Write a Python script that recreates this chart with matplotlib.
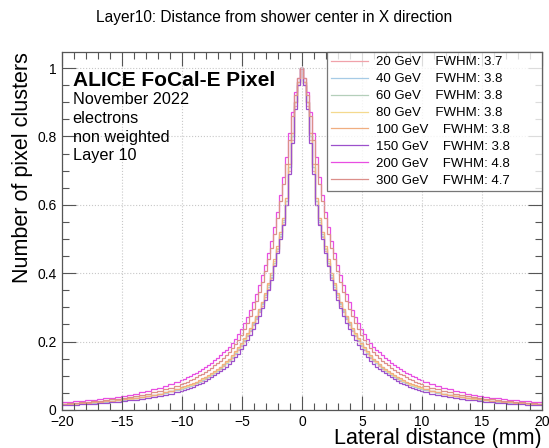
import numpy as np
import matplotlib
matplotlib.use("Agg")
from matplotlib import pyplot as plt
from matplotlib.ticker import MultipleLocator, FuncFormatter

plt.rcParams['font.family'] = ['Liberation Sans', 'DejaVu Sans']

# Bin layout: one central bin, 0.25 mm bins out to 10.125 mm, then 0.5 mm bins.
# Each profile lists the bin contents from the centre outwards; the negative side is the mirror image.
inner_edges = np.arange(0.125, 10.126, 0.25)
outer_edges = np.arange(10.625, 20.126, 0.5)
pos_edges = np.concatenate([inner_edges, outer_edges])
edges = np.concatenate([-pos_edges[::-1], pos_edges])

energies = ["20", "40", "60", "80", "100", "150", "200", "300"]
fwhm = ["3.7", "3.8", "3.8", "3.8", "3.8", "3.8", "4.8", "4.7"]
colors = ['#f0a2aa', '#a6cbe6', '#b4cfba', '#f4d98e', '#f0ae80', '#9c50cc', '#e84ee2', '#dc8f8a']

half_20 = [1.00, 0.95, 0.89, 0.79, 0.70, 0.60, 0.545, 0.505, 0.465, 0.425, 0.385, 0.355, 0.33, 0.305, 0.285,
           0.265, 0.248, 0.231, 0.215, 0.201, 0.188, 0.176, 0.164, 0.153, 0.143,
           0.136, 0.128, 0.121, 0.114, 0.108, 0.102, 0.096, 0.091, 0.086, 0.082, 0.078, 0.074, 0.070, 0.067,
           0.064, 0.061,
           0.058, 0.054, 0.050, 0.046, 0.043, 0.040, 0.037, 0.034, 0.032, 0.030, 0.028, 0.026, 0.024, 0.023,
           0.021, 0.020, 0.019, 0.018, 0.017, 0.016]
half_40 = [1.00, 0.96, 0.90, 0.80, 0.71, 0.61, 0.55, 0.51, 0.47, 0.43, 0.39, 0.36, 0.335, 0.31, 0.29,
           0.27, 0.252, 0.234, 0.218, 0.204, 0.19, 0.178, 0.166, 0.155, 0.145,
           0.138, 0.130, 0.122, 0.115, 0.109, 0.103, 0.097, 0.092, 0.087, 0.083, 0.079, 0.075, 0.071, 0.068,
           0.065, 0.062,
           0.059, 0.054, 0.050, 0.046, 0.043, 0.040, 0.037, 0.034, 0.032, 0.030, 0.028, 0.026, 0.024, 0.023,
           0.021, 0.020, 0.019, 0.018, 0.017, 0.016]
half_60 = [1.00, 0.96, 0.90, 0.80, 0.71, 0.61, 0.555, 0.515, 0.47, 0.43, 0.395, 0.365, 0.338, 0.312, 0.292,
           0.272, 0.254, 0.236, 0.22, 0.206, 0.192, 0.18, 0.168, 0.157, 0.147,
           0.140, 0.132, 0.124, 0.117, 0.111, 0.105, 0.099, 0.094, 0.089, 0.084, 0.080, 0.076, 0.072, 0.069,
           0.066, 0.063,
           0.060, 0.055, 0.051, 0.047, 0.044, 0.041, 0.038, 0.035, 0.033, 0.031, 0.029, 0.027, 0.025, 0.023,
           0.022, 0.020, 0.019, 0.018, 0.017, 0.016]
half_80 = [1.00, 0.96, 0.90, 0.81, 0.72, 0.62, 0.56, 0.52, 0.475, 0.435, 0.40, 0.368, 0.34, 0.315, 0.294,
           0.274, 0.256, 0.238, 0.222, 0.207, 0.193, 0.181, 0.169, 0.158, 0.148,
           0.141, 0.133, 0.125, 0.118, 0.112, 0.106, 0.100, 0.095, 0.090, 0.085, 0.081, 0.077, 0.073, 0.070,
           0.067, 0.064,
           0.060, 0.055, 0.051, 0.047, 0.044, 0.041, 0.038, 0.035, 0.033, 0.031, 0.029, 0.027, 0.025, 0.024,
           0.022, 0.021, 0.019, 0.018, 0.017, 0.016]
half_100 = [1.00, 0.96, 0.90, 0.81, 0.72, 0.62, 0.56, 0.52, 0.48, 0.44, 0.40, 0.37, 0.342, 0.317, 0.296,
            0.276, 0.258, 0.24, 0.224, 0.209, 0.195, 0.183, 0.171, 0.16, 0.15,
            0.142, 0.134, 0.127, 0.120, 0.114, 0.108, 0.102, 0.097, 0.092, 0.087, 0.083, 0.079, 0.075, 0.072,
            0.069, 0.066,
            0.061, 0.056, 0.052, 0.048, 0.045, 0.042, 0.039, 0.036, 0.034, 0.031, 0.029, 0.027, 0.025, 0.024,
            0.022, 0.021, 0.020, 0.019, 0.018, 0.017]
half_150 = [1.00, 0.95, 0.88, 0.78, 0.69, 0.60, 0.54, 0.50, 0.46, 0.42, 0.38, 0.35, 0.322, 0.297, 0.275,
            0.255, 0.237, 0.22, 0.204, 0.19, 0.177, 0.165, 0.154, 0.144, 0.134,
            0.127, 0.120, 0.113, 0.107, 0.101, 0.095, 0.090, 0.085, 0.080, 0.076, 0.072, 0.068, 0.065, 0.062,
            0.059, 0.056,
            0.053, 0.048, 0.044, 0.041, 0.038, 0.035, 0.032, 0.030, 0.028, 0.026, 0.024, 0.022, 0.021, 0.019,
            0.018, 0.017, 0.016, 0.015, 0.014, 0.013]
half_200 = [1.00, 0.97, 0.93, 0.87, 0.81, 0.74, 0.68, 0.63, 0.58, 0.535, 0.495, 0.46, 0.425, 0.395, 0.365,
            0.34, 0.315, 0.293, 0.273, 0.255, 0.238, 0.222, 0.208, 0.195, 0.183,
            0.176, 0.168, 0.160, 0.152, 0.145, 0.138, 0.131, 0.125, 0.119, 0.114, 0.109, 0.104, 0.099, 0.095,
            0.091, 0.087,
            0.082, 0.076, 0.070, 0.065, 0.060, 0.056, 0.052, 0.048, 0.045, 0.042, 0.039, 0.036, 0.034, 0.032,
            0.030, 0.028, 0.026, 0.025, 0.023, 0.022]
half_300 = [1.00, 0.97, 0.92, 0.86, 0.79, 0.72, 0.66, 0.61, 0.56, 0.515, 0.475, 0.44, 0.405, 0.375, 0.345,
            0.32, 0.295, 0.274, 0.255, 0.237, 0.22, 0.205, 0.192, 0.18, 0.168,
            0.160, 0.152, 0.144, 0.137, 0.130, 0.123, 0.117, 0.111, 0.106, 0.101, 0.096, 0.091, 0.087, 0.083,
            0.079, 0.075,
            0.071, 0.065, 0.060, 0.055, 0.051, 0.047, 0.044, 0.041, 0.038, 0.035, 0.033, 0.031, 0.029, 0.027,
            0.025, 0.023, 0.022, 0.021, 0.019, 0.018]

profiles = [half_20, half_40, half_60, half_80, half_100, half_150, half_200, half_300]

fig = plt.figure(figsize=(5.49, 4.48), dpi=100)
ax = fig.add_axes([0.113, 0.085, 0.874, 0.799])

for e, w, c, half in zip(energies, fwhm, colors, profiles):
    half = np.array(half)
    vals = np.concatenate([half[:0:-1], half])
    ax.stairs(vals, edges, color=c, lw=0.9, label=f"{e} GeV    FWHM: {w}")

ax.set_xlim(-20, 20)
ax.set_ylim(0, 1.047)

ax.xaxis.set_major_locator(MultipleLocator(5))
ax.xaxis.set_minor_locator(MultipleLocator(1))
ax.yaxis.set_major_locator(MultipleLocator(0.2))
ax.yaxis.set_minor_locator(MultipleLocator(0.05))
ax.yaxis.set_major_formatter(FuncFormatter(lambda v, p: f"{v:g}"))
ax.tick_params(which='both', direction='in', top=True, right=True, labelsize=10, width=0.8, color='#555555')
ax.tick_params(which='major', length=10)
ax.tick_params(which='minor', length=5)
ax.tick_params(axis='x', pad=4)
ax.tick_params(axis='y', pad=4)
ax.grid(True, which='major', ls=':', color='#c8c8c8', lw=0.8)
for s in ax.spines.values():
    s.set_color('#555555')
    s.set_linewidth(0.9)

ax.set_xlabel("Lateral distance (mm)", fontsize=15.5, loc='right', labelpad=-1)
ax.set_ylabel("Number of pixel clusters", fontsize=15.5, loc='top', labelpad=3)
fig.text(0.5, 0.962, "Layer10: Distance from shower center in X direction", ha='center', va='center', fontsize=11.2)

ax.text(0.022, 0.92, "ALICE FoCal-E Pixel", transform=ax.transAxes, fontsize=15, fontweight='bold', va='center')
info = ["November 2022", "electrons", "non weighted", "Layer 10"]
for i, line in enumerate(info):
    ax.text(0.022, 0.866 - i * 0.052, line, transform=ax.transAxes, fontsize=11.7, va='center')

# legend box stretched to a fixed width, entries left-aligned inside it
leg = ax.legend(loc='upper left', bbox_to_anchor=(0.552, 0.0, 0.448, 1.0), mode='expand', borderaxespad=0,
                fontsize=9.5, frameon=True, fancybox=False, edgecolor='#555555', handlelength=2.8,
                handletextpad=0.6, labelspacing=0.36, borderpad=0.3)
leg.get_frame().set_linewidth(0.9)

fig.savefig("out.png", dpi=100)
